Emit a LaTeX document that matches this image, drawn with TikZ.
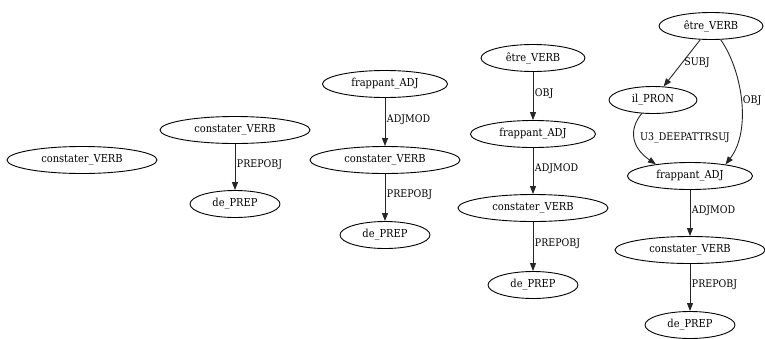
\documentclass[tikz,border=0pt]{standalone}
\usepackage{fontspec}
\setmainfont{DejaVu Serif Condensed}
\usetikzlibrary{shapes.geometric,arrows.meta}
\tikzset{
  gnode/.style={ellipse,draw=black,line width=0.9pt,inner sep=0pt,minimum height=27pt,font=\fontsize{11}{13}\selectfont},
  wC/.style={minimum width=150pt},
  wD/.style={minimum width=90pt},
  wF/.style={minimum width=125pt},
  wE/.style={minimum width=104pt},
  wI/.style={minimum width=88pt},
  edge/.style={draw=black!85,line width=0.9pt,-{Triangle[length=8pt,width=6pt]}},
  lab/.style={font=\fontsize{10.5}{12}\selectfont,inner sep=1.5pt,anchor=west}
}
\begin{document}
\begin{tikzpicture}[x=1pt,y=-1pt]
\useasboundingbox (0,0) rectangle (765,338);
% graph 1
\node[gnode,wC] (c1) at (82,160) {constater\_VERB};
% graph 2
\node[gnode,wC] (c2) at (235,130) {constater\_VERB};
\node[gnode,wD] (d2) at (235,204) {de\_PREP};
\draw[edge] (c2) -- node[lab,pos=0.45] {PREPOBJ} (d2);
% graph 3
\node[gnode,wF] (f3) at (385,84) {frappant\_ADJ};
\node[gnode,wC] (c3) at (385,160) {constater\_VERB};
\node[gnode,wD] (d3) at (385,235) {de\_PREP};
\draw[edge] (f3) -- node[lab,pos=0.45] {ADJMOD} (c3);
\draw[edge] (c3) -- node[lab,pos=0.45] {PREPOBJ} (d3);
% graph 4
\node[gnode,wE] (e4) at (533,58) {être\_VERB};
\node[gnode,wF] (f4) at (533,134) {frappant\_ADJ};
\node[gnode,wC] (c4) at (533,208) {constater\_VERB};
\node[gnode,wD] (d4) at (533,285) {de\_PREP};
\draw[edge] (e4) -- node[lab,pos=0.45] {OBJ} (f4);
\draw[edge] (f4) -- node[lab,pos=0.45] {ADJMOD} (c4);
\draw[edge] (c4) -- node[lab,pos=0.45] {PREPOBJ} (d4);
% graph 5
\node[gnode,wE] (e5) at (711,26) {être\_VERB};
\node[gnode,wI] (i5) at (653,100) {il\_PRON};
\node[gnode,wF] (f5) at (690,176) {frappant\_ADJ};
\node[gnode,wC] (c5) at (690,250) {constater\_VERB};
\node[gnode,wD] (d5) at (690,325) {de\_PREP};
\draw[edge] (e5) -- node[lab,pos=0.5,anchor=west,inner sep=2pt] {SUBJ} (i5);
\draw[edge] (e5) .. controls (742,70) and (752,130) .. node[lab,pos=0.5] {OBJ} (f5.18);
\draw[edge] (i5) .. controls (628,130) and (632,148) .. (f5.161);
\node[lab,anchor=center] (u3) at (685,138) {U3\_DEEPATTRSUJ};
\draw[edge] (f5) -- node[lab,pos=0.45] {ADJMOD} (c5);
\draw[edge] (c5) -- node[lab,pos=0.45] {PREPOBJ} (d5);
\end{tikzpicture}
\end{document}
